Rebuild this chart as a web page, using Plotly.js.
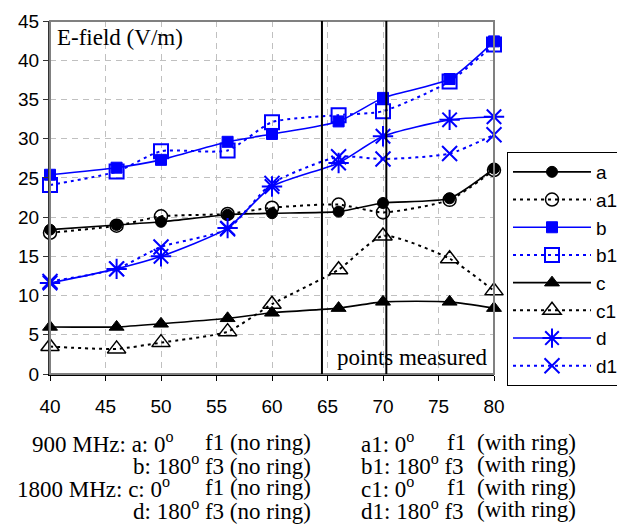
<!DOCTYPE html>
<html>
<head>
<meta charset="utf-8">
<script src="https://cdn.plot.ly/plotly-3.0.1.min.js"></script>
<style>html,body{margin:0;padding:0;background:#fff;}#chart{width:617px;height:532px;}</style>
</head>
<body>
<div id="chart"></div>
<script>
// Data
const xVals = [40, 46, 50, 56, 60, 66, 70, 76, 80];
const aVals  = [18.4, 19.0, 19.4, 20.3, 20.5, 20.7, 21.8, 22.4, 26.2];
const a1Vals = [18.0, 18.9, 20.1, 20.4, 21.2, 21.6, 20.6, 22.2, 26.0];
const bVals  = [25.4, 26.3, 27.3, 29.6, 30.6, 32.2, 35.2, 37.6, 42.4];
const b1Vals = [24.1, 25.8, 28.4, 28.5, 32.1, 33.0, 33.5, 37.3, 42.0];
const cVals  = [6.0, 6.0, 6.4, 7.1, 7.8, 8.4, 9.2, 9.2, 8.4];
const c1Vals = [3.5, 3.2, 4.0, 5.4, 8.9, 13.3, 17.6, 14.7, 10.6];
const dVals  = [11.6, 13.4, 15.0, 18.6, 23.9, 26.9, 30.3, 32.4, 32.8];
const d1Vals = [11.8, 13.4, 16.2, 18.5, 24.3, 27.7, 27.4, 28.1, 30.5];
const seriesNames = ['a', 'a1', 'b', 'b1', 'c', 'c1', 'd', 'd1'];
const xTicks = [40, 45, 50, 55, 60, 65, 70, 75, 80];
const yTicks = [0, 5, 10, 15, 20, 25, 30, 35, 40, 45];
const measuredBounds = [64.5, 70.3];
const captionLines = [
  ['900 MHz: a: 0<sup>o</sup>', 'f1 (no ring)', 'a1: 0<sup>o</sup>', 'f1', '(with ring)'],
  ['', 'b: 180<sup>o</sup> f3 (no ring)', 'b1: 180<sup>o</sup> f3', '', '(with ring)'],
  ['1800 MHz: c: 0<sup>o</sup>', 'f1 (no ring)', 'c1: 0<sup>o</sup>', 'f1', '(with ring)'],
  ['', 'd: 180<sup>o</sup> f3 (no ring)', 'd1: 180<sup>o</sup> f3', '', '(with ring)']
];

const BLUE = '#0000ff', BLACK = '#000000';
const DOT = '3px,4px';
function tr(name, y, color, dash, symbol, size, lw) {
  return {
    x: xVals, y: y, name: name, type: 'scatter', mode: 'lines+markers',
    cliponaxis: false,
    line: {color: color, width: dash === 'solid' ? 1.6 : 2, dash: dash, shape: 'spline', smoothing: 0.6},
    marker: {symbol: symbol, size: size, color: color, line: {color: color, width: lw}}
  };
}
const data = [
  tr(seriesNames[0], aVals,  BLACK, 'solid', 'circle', 11, 1),
  tr(seriesNames[1], a1Vals, BLACK, DOT, 'circle-open', 13, 1.5),
  tr(seriesNames[2], bVals,  BLUE,  'solid', 'square', 11, 1),
  tr(seriesNames[3], b1Vals, BLUE,  DOT, 'square-open', 14, 2),
  tr(seriesNames[4], cVals,  BLACK, 'solid', 'triangle-up', 13, 1),
  tr(seriesNames[5], c1Vals, BLACK, DOT, 'triangle-up-open', 16, 1.5),
  tr(seriesNames[6], dVals,  BLUE,  'solid', 'asterisk-open', 17, 2),
  tr(seriesNames[7], d1Vals, BLUE,  DOT, 'x-thin-open', 15, 2)
];

// plot area in pixels: left 50, right 494, top 21, bottom 374
const L = 50, R = 494, T = 21, B = 374;
const px2x = p => (p - L) / (R - L);
const py2y = p => (B - p) / (B - T);
const SERIF = "'Liberation Serif', 'Times New Roman', serif";
const SANS = "'Liberation Sans', Arial, sans-serif";

const annotations = [
  {text: 'E-field (V/m)', xref: 'paper', yref: 'paper', x: px2x(55), y: py2y(38),
   xanchor: 'left', yanchor: 'middle', showarrow: false, font: {family: SERIF, size: 23, color: '#000'}},
  {text: 'points measured', xref: 'paper', yref: 'paper', x: px2x(490), y: py2y(357),
   xanchor: 'right', yanchor: 'middle', showarrow: false, font: {family: SERIF, size: 23, color: '#000'}}
];
const lineY = [442, 464, 487, 510];
const segPos = [[30, 'left'], [313, 'right'], [359, 'left'], [445, 'left'], [578, 'right']];
captionLines.forEach((row, i) => {
  row.forEach((txt, j) => {
    if (!txt) return;
    annotations.push({text: txt, xref: 'paper', yref: 'paper', x: px2x(j === 0 && i === 2 ? 15 : segPos[j][0]),
      y: py2y(lineY[i]), xanchor: segPos[j][1], yanchor: 'middle', showarrow: false,
      font: {family: SERIF, size: 23, color: '#000'}});
  });
});

const shapes = [
  {type: 'rect', xref: 'paper', yref: 'paper', x0: 0, x1: 1, y0: 0, y1: 1,
   line: {color: '#808080', width: 2}, layer: 'above'}
].concat(measuredBounds.map(v => ({type: 'line', xref: 'x', yref: 'paper', x0: v, x1: v, y0: 0, y1: 1,
   line: {color: '#000', width: 2}, layer: 'above'})));

const layout = {
  width: 617, height: 532,
  margin: {l: L, r: 617 - R, t: T, b: 532 - B, autoexpand: false},
  paper_bgcolor: '#fff', plot_bgcolor: '#fff',
  font: {family: SANS, color: '#000'},
  showlegend: true,
  xaxis: {range: [40, 80], tickvals: xTicks, ticktext: xTicks.map(String), showgrid: true,
          gridcolor: '#c0c0c0', griddash: '6px,5px', gridwidth: 1, automargin: false,
          showline: true, linecolor: '#000', linewidth: 1.5, ticks: 'outside', ticklen: 5, tickcolor: '#000',
          ticklabelstandoff: 10, tickfont: {family: SANS, size: 19}, zeroline: false, fixedrange: true},
  yaxis: {range: [0, 45], tickvals: yTicks, ticktext: yTicks.map(String), showgrid: true,
          gridcolor: '#c0c0c0', griddash: '6px,5px', gridwidth: 1, automargin: false,
          showline: true, linecolor: '#333', linewidth: 2, ticks: 'outside', ticklen: 5, tickcolor: '#333',
          tickfont: {family: SANS, size: 19}, zeroline: false, fixedrange: true},
  legend: {x: px2x(507), y: py2y(152), xanchor: 'left', yanchor: 'top',
           bordercolor: '#000', borderwidth: 1, bgcolor: '#fff',
           font: {family: SANS, size: 19, color: '#000'}, itemwidth: 78, tracegroupgap: 0},
  annotations: annotations,
  shapes: shapes
};
Plotly.newPlot('chart', data, layout, {displayModeBar: false, staticPlot: true});
</script>
</body>
</html>
